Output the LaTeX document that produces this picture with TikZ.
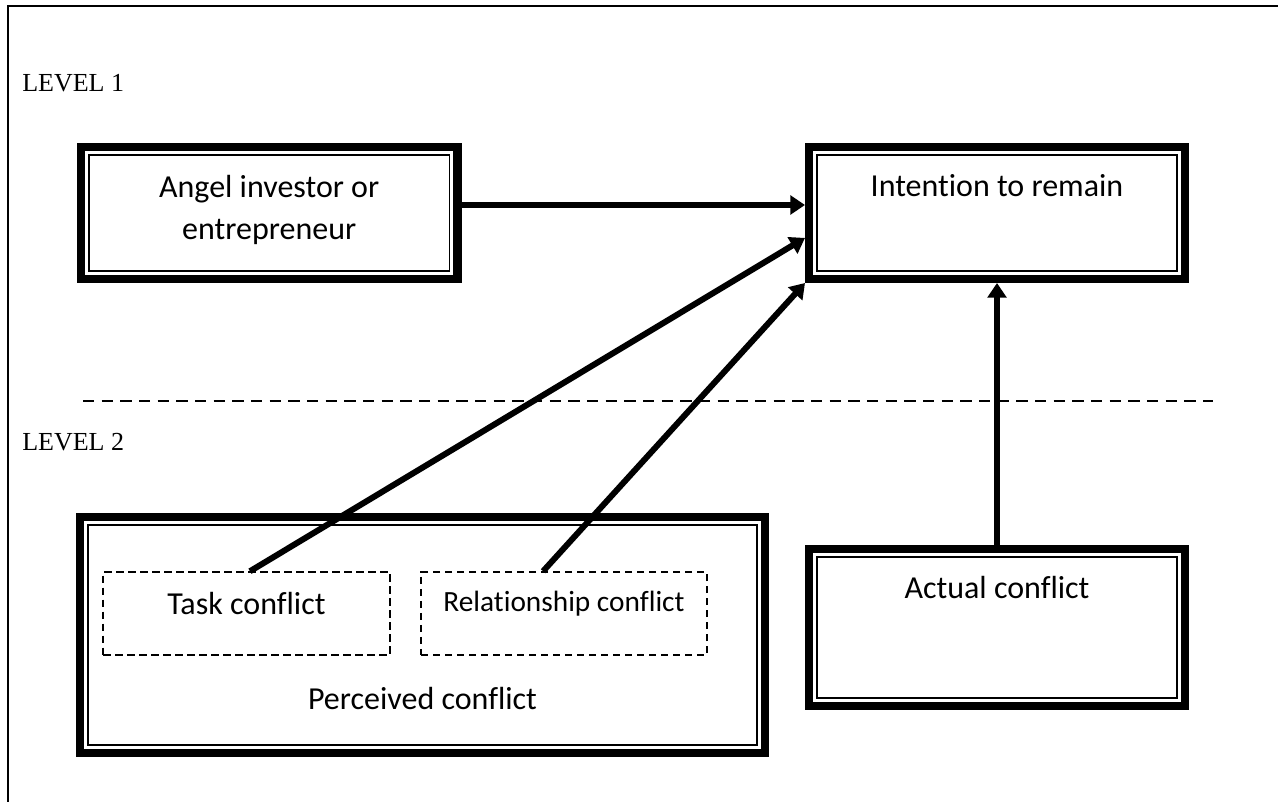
\documentclass[tikz,border=0pt]{standalone}
\usepackage{fontspec}
\setmainfont{Liberation Serif}
\newfontfamily\boxfont[Ligatures=NoCommon]{Carlito}
\usetikzlibrary{arrows.meta}
\tikzset{
  framebox/.style={draw,line width=6.3pt,inner sep=0pt},
  thinline/.style={line width=1.2pt},
  dashbox/.style={draw,line width=1.1pt,dash pattern=on 5.5pt off 3.5pt,inner sep=0pt},
  boxtext/.style={font=\boxfont\fontsize{24}{32}\selectfont,align=center,anchor=base,inner sep=0pt},
  leveltext/.style={font=\fontsize{19.5}{22}\selectfont,anchor=base west,inner sep=0pt},
  arrowline/.style={line width=4.5pt,-{Triangle[length=11pt,width=14pt]}}
}
\newcommand\innerframe[1]{\draw[thinline] ([shift={(12,12)}]#1.north west) rectangle ([shift={(-12,-12)}]#1.south east);}
\begin{document}
\begin{tikzpicture}[x=.75pt,y=-.75pt]
\useasboundingbox (0,0) rectangle (1278,802);
\draw[line width=1.5pt] (1278,5.7)--(8.3,5.7)--(8.3,802);

\node[leveltext] (lev1) at (22,92) {LEVEL 1};
\node[leveltext] (lev2) at (22,450) {LEVEL 2};
\draw[line width=1.4pt,dash pattern=on 8.5pt off 5.5pt] (83,401)--(1213,401);

\node[framebox,minimum width=282.4pt,minimum height=98.7pt] (angel) at (269.2,213) {};
\innerframe{angel}
\node[boxtext] (angeltxt) at (269.2,240) {Angel investor or\\entrepreneur};

\node[framebox,minimum width=281.7pt,minimum height=98.7pt] (remain) at (997,213) {};
\innerframe{remain}
\node[boxtext] (remaintxt) at (997,196.7) {Intention to remain};

\node[framebox,minimum width=513.5pt,minimum height=176.7pt] (perceived) at (422.5,635) {};
\innerframe{perceived}
\node[boxtext] (perceivedtxt) at (422.5,709) {Perceived conflict};

\node[dashbox,minimum width=215pt,minimum height=62.3pt] (task) at (246.5,613.5) {};
\node[boxtext] (tasktxt) at (246.5,614) {Task conflict};
\node[dashbox,minimum width=214.5pt,minimum height=62.3pt] (relation) at (564,613.5) {};
\node[boxtext,font=\boxfont\fontsize{22}{26}\selectfont] (relationtxt) at (564,611.7) {Relationship conflict};

\node[framebox,minimum width=281.7pt,minimum height=117.5pt] (actual) at (997,627.5) {};
\innerframe{actual}
\node[boxtext] (actualtxt) at (997,598) {Actual conflict};

\draw[arrowline] ([yshift=6pt]angel.east)--([yshift=6pt]remain.west);
\draw[arrowline] ([xshift=2.6pt]task.north)--([yshift=-18.7pt]remain.west);
\draw[arrowline] ([xshift=-15.7pt]relation.north)--(remain.south west);
\draw[arrowline] (actual.north)--(remain.south);
\end{tikzpicture}
\end{document}
